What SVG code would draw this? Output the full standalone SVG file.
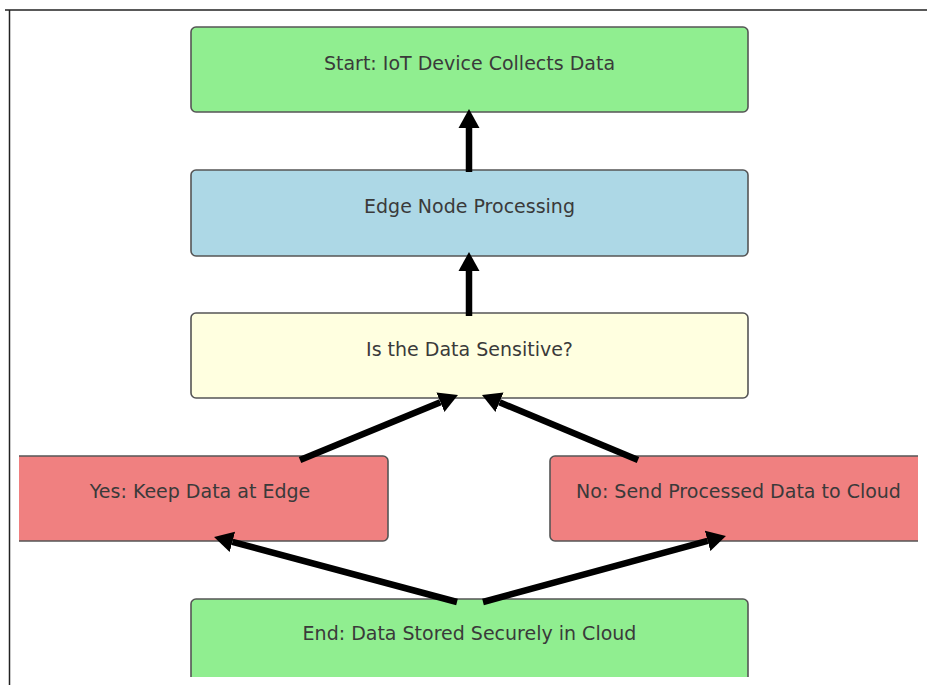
<svg xmlns="http://www.w3.org/2000/svg" width="927" height="685" viewBox="0 0 927 685">
  <style>
    .box { stroke: #555; stroke-width: 1.6; }
    .label { font-family: "DejaVu Sans", "Liberation Sans", sans-serif; font-size: 19px; fill: #3a3a3a; text-anchor: middle; }
    .edge { stroke: #000; stroke-width: 6.5; fill: none; marker-end: url(#head); }
  </style>
  <defs>
    <marker id="head" markerUnits="userSpaceOnUse" markerWidth="20" markerHeight="22" viewBox="0 -11 20 22" refX="0" refY="0" orient="auto">
      <path d="M0,-10.5 L19,0 L0,10.5 Z" fill="#000"/>
    </marker>
    <clipPath id="plot">
      <rect x="19" y="11" width="899" height="666"/>
    </clipPath>
  </defs>

  <rect x="0" y="0" width="927" height="685" fill="#fff"/>
  <!-- outer frame -->
  <line x1="5" y1="10" x2="927" y2="10" stroke="#222" stroke-width="1.5"/>
  <line x1="9.5" y1="10" x2="9.5" y2="685" stroke="#222" stroke-width="1.5"/>

  <g clip-path="url(#plot)">
    <g id="start">
      <rect class="box" x="191" y="27" width="557" height="85" rx="5" fill="#90EE90"/>
      <text class="label" x="469.5" y="70">Start: IoT Device Collects Data</text>
    </g>
    <g id="edge-node">
      <rect class="box" x="191" y="170" width="557" height="86" rx="5" fill="#ADD8E6"/>
      <text class="label" x="469.5" y="213">Edge Node Processing</text>
    </g>
    <g id="decision">
      <rect class="box" x="191" y="313" width="557" height="85" rx="5" fill="#FFFFE0"/>
      <text class="label" x="469.5" y="356">Is the Data Sensitive?</text>
    </g>
    <g id="yes">
      <rect class="box" x="5" y="456" width="383" height="85" rx="5" fill="#F08080"/>
      <text class="label" x="200" y="498">Yes: Keep Data at Edge</text>
    </g>
    <g id="no">
      <rect class="box" x="550" y="456" width="390" height="85" rx="5" fill="#F08080"/>
      <text class="label" x="738.5" y="498">No: Send Processed Data to Cloud</text>
    </g>
    <g id="end">
      <rect class="box" x="191" y="599" width="557" height="100" rx="5" fill="#90EE90"/>
      <text class="label" x="469.5" y="640">End: Data Stored Securely in Cloud</text>
    </g>

    <g id="connectors">
      <line class="edge" x1="469" y1="172" x2="469" y2="128"/>
      <line class="edge" x1="469" y1="316" x2="469" y2="271"/>
      <line class="edge" x1="300" y1="460" x2="440.4" y2="402.2"/>
      <line class="edge" x1="638" y1="460" x2="499.5" y2="402.3"/>
      <line class="edge" x1="457" y1="602" x2="232.4" y2="541.8"/>
      <line class="edge" x1="483" y1="602" x2="707.6" y2="540.9"/>
    </g>
  </g>
</svg>
